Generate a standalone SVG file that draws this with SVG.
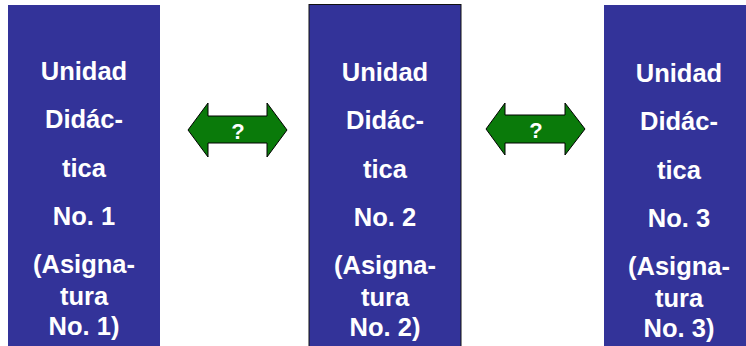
<svg xmlns="http://www.w3.org/2000/svg" width="746" height="346" viewBox="0 0 746 346">
<style>
.box{fill:#333399}
.t{font-family:"Liberation Sans",Arial,sans-serif;font-weight:bold;font-size:25.5px;fill:#ffffff;text-anchor:middle}
.arr{fill:#0a7a0a;stroke:#000;stroke-width:1;stroke-linejoin:miter}
.q{font-family:"Liberation Sans",Arial,sans-serif;font-weight:bold;font-size:22px;fill:#ffffff;text-anchor:middle}
</style>
<rect width="746" height="346" fill="#ffffff"/>
<g id="node1">
<rect class="box" x="8" y="5" width="152" height="341"/>
<text class="t" x="84" y="80">Unidad</text>
<text class="t" x="84" y="128">Didác-</text>
<text class="t" x="84" y="177">tica</text>
<text class="t" x="84" y="225">No. 1</text>
<text class="t" x="84" y="273">(Asigna-</text>
<text class="t" x="84" y="305">tura</text>
<text class="t" x="84" y="335">No. 1)</text>
</g>
<g id="node2">
<rect class="box" x="309" y="4.5" width="152" height="343" stroke="#111" stroke-width="1"/>
<text class="t" x="385" y="81">Unidad</text>
<text class="t" x="385" y="129">Didác-</text>
<text class="t" x="385" y="178">tica</text>
<text class="t" x="385" y="226">No. 2</text>
<text class="t" x="385" y="274">(Asigna-</text>
<text class="t" x="385" y="306">tura</text>
<text class="t" x="385" y="336">No. 2)</text>
</g>
<g id="node3">
<rect class="box" x="604" y="5" width="142" height="341"/>
<text class="t" x="679" y="82">Unidad</text>
<text class="t" x="679" y="130">Didác-</text>
<text class="t" x="679" y="179">tica</text>
<text class="t" x="679" y="227">No. 3</text>
<text class="t" x="679" y="275">(Asigna-</text>
<text class="t" x="679" y="307">tura</text>
<text class="t" x="679" y="337">No. 3)</text>
</g>
<g id="connectors">
<g id="arrow1">
<path class="arr" d="M188,130 L208,103 L208,116 L267,116 L267,103 L287,130 L267,157 L267,143 L208,143 L208,157 Z"/>
<text class="q" x="238" y="139">?</text>
</g>
<g id="arrow2">
<path class="arr" d="M486,129 L505,103 L505,115 L565,115 L565,103 L585,129 L565,155 L565,143 L505,143 L505,155 Z"/>
<text class="q" x="536" y="138">?</text>
</g>
</g>
</svg>
